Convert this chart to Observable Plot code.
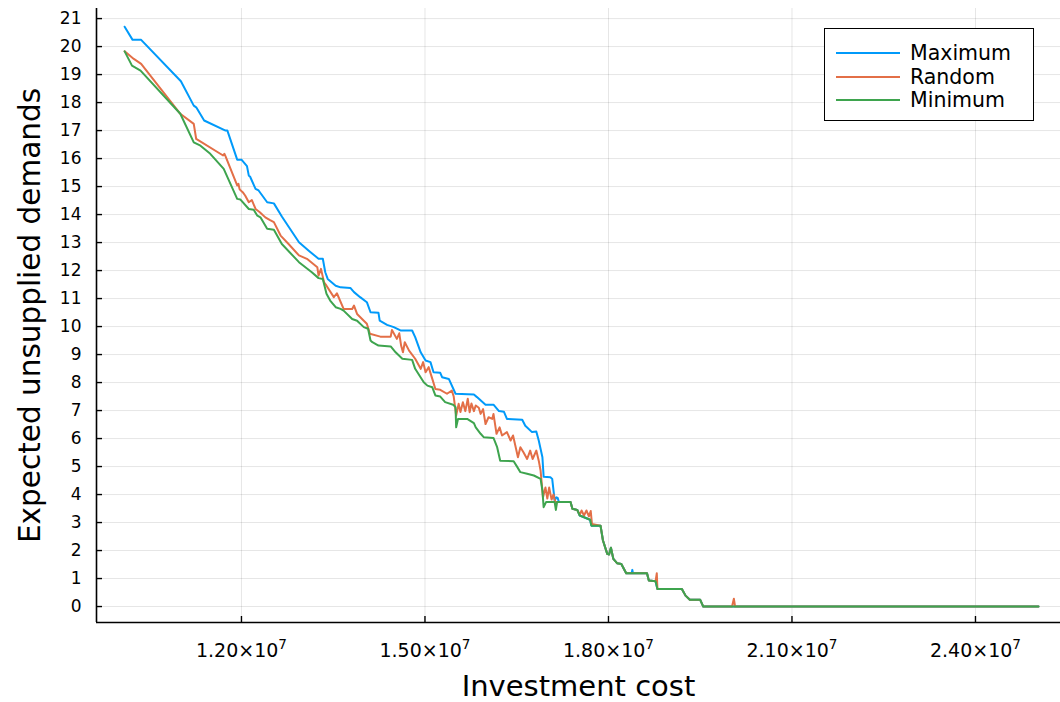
<!DOCTYPE html>
<html>
<head>
<meta charset="utf-8">
<script src="https://cdn.jsdelivr.net/npm/d3@7"></script>
<script src="https://cdn.jsdelivr.net/npm/@observablehq/plot@0.6"></script>
<style>
  html, body { margin: 0; padding: 0; background: #fff; }
  #wrap { position: relative; width: 1060px; height: 702px; font-family: "DejaVu Sans", sans-serif; }
  #legend { position: absolute; left: 824px; top: 28px; width: 208px; height: 91px; border: 1.5px solid #000; background: #fff; }
  .row { position: absolute; left: 11px; height: 24px; display: flex; align-items: center; font-size: 20.5px; color: #000; }
  .row svg { margin-right: 10px; }
</style>
</head>
<body>
<div id="wrap"></div>
<script>
// ---- data (investment cost, expected unsupplied demands) ----
const seriesNames = ["Maximum", "Random", "Minimum"];
const seriesColors = ["#009AFA", "#E36F47", "#3EA44E"];
const xTicks = [1.2e7, 1.5e7, 1.8e7, 2.1e7, 2.4e7];
const yTicks = d3.range(0, 22);
const xDomain = [9.63e6, 25.39e6];
const yDomain = [-0.57, 21.36];

const maximum = [
[10.09e6,20.71],[10.22e6,20.24],[10.36e6,20.24],[11.01e6,18.76],[11.22e6,17.89],[11.26e6,17.83],[11.39e6,17.36],[11.74e6,17.0],[11.77e6,17.0],[11.93e6,15.96],[12.0e6,15.96],[12.09e6,15.73],[12.12e6,15.39],[12.14e6,15.36],[12.23e6,14.92],[12.28e6,14.86],[12.42e6,14.44],[12.53e6,14.40],[12.66e6,13.93],[12.94e6,13.01],[13.10e6,12.71],[13.26e6,12.42],[13.33e6,12.42],[13.37e6,11.94],[13.41e6,11.70],[13.54e6,11.46],[13.62e6,11.40],[13.78e6,11.38],[13.84e6,11.23],[13.94e6,11.05],[14.05e6,10.87],[14.11e6,10.51],[14.24e6,10.49],[14.26e6,10.21],[14.38e6,10.06],[14.49e6,9.98],[14.60e6,9.86],[14.79e6,9.86],[14.84e6,9.62],[14.93e6,9.08],[15.01e6,8.79],[15.09e6,8.73],[15.14e6,8.37],[15.25e6,8.35],[15.28e6,8.19],[15.39e6,8.13],[15.50e6,7.60],[15.80e6,7.57],[15.85e6,7.48],[15.99e6,7.21],[16.12e6,7.21],[16.21e6,6.98],[16.29e6,6.96],[16.34e6,6.70],[16.59e6,6.67],[16.64e6,6.46],[16.75e6,6.23],[16.82e6,6.25],[16.86e6,5.93],[16.92e6,5.33],[16.94e6,4.64],[17.05e6,4.62],[17.08e6,4.56],[17.12e6,3.79],[17.15e6,3.90],[17.17e6,3.88],[17.19e6,3.73],[17.38e6,3.73],[17.41e6,3.49],[17.49e6,3.45],[17.53e6,3.25],[17.60e6,3.19],[17.70e6,3.10],[17.72e6,2.89],[17.87e6,2.89],[17.91e6,2.36],[17.98e6,1.88],[18.01e6,1.86],[18.04e6,2.10],[18.08e6,1.70],[18.14e6,1.55],[18.21e6,1.52],[18.29e6,1.19],[18.38e6,1.19],[18.39e6,1.31],[18.40e6,1.19],[18.63e6,1.19],[18.66e6,0.93],[18.77e6,0.90],[18.80e6,0.63],[19.20e6,0.63],[19.26e6,0.39],[19.33e6,0.24],[19.50e6,0.24],[19.55e6,0.0],[25.03e6,0.0]
];

const random = [
[10.09e6,19.83],[10.24e6,19.56],[10.36e6,19.38],[11.0e6,17.6],[11.22e6,17.24],[11.26e6,16.70],[11.70e6,16.11],[11.72e6,16.17],[11.74e6,16.08],[11.93e6,15.04],[11.95e6,15.10],[11.97e6,14.90],[12.02e6,14.80],[12.06e6,14.68],[12.12e6,14.44],[12.17e6,14.52],[12.23e6,14.20],[12.30e6,14.08],[12.39e6,13.90],[12.46e6,13.81],[12.53e6,13.73],[12.64e6,13.25],[12.77e6,12.95],[12.94e6,12.54],[13.07e6,12.42],[13.24e6,12.12],[13.26e6,11.82],[13.30e6,12.06],[13.35e6,11.58],[13.39e6,11.46],[13.51e6,11.05],[13.56e6,11.19],[13.67e6,10.63],[13.81e6,10.63],[13.84e6,10.75],[13.89e6,10.45],[14.0e6,10.21],[14.05e6,10.10],[14.10e6,9.74],[14.27e6,9.64],[14.44e6,9.64],[14.46e6,9.88],[14.54e6,9.56],[14.58e6,9.76],[14.61e6,9.32],[14.64e6,9.08],[14.67e6,9.44],[14.74e6,9.14],[14.84e6,8.85],[14.93e6,8.49],[14.97e6,8.73],[15.01e6,8.37],[15.06e6,8.55],[15.12e6,8.13],[15.17e6,7.77],[15.25e6,7.74],[15.36e6,7.60],[15.44e6,7.71],[15.47e6,7.50],[15.51e6,6.82],[15.55e6,7.24],[15.58e6,6.95],[15.62e6,7.30],[15.66e6,6.98],[15.70e6,7.42],[15.73e6,6.94],[15.76e6,7.25],[15.80e6,6.98],[15.83e6,7.18],[15.88e6,7.10],[15.91e6,6.88],[15.95e6,7.05],[15.99e6,6.52],[16.04e6,6.76],[16.10e6,6.70],[16.12e6,6.88],[16.17e6,6.17],[16.22e6,6.40],[16.26e6,6.11],[16.34e6,6.23],[16.40e6,5.93],[16.44e6,6.11],[16.52e6,5.33],[16.56e6,5.69],[16.61e6,5.51],[16.67e6,5.27],[16.72e6,5.57],[16.76e6,5.27],[16.82e6,5.57],[16.86e6,5.21],[16.89e6,4.86],[16.93e6,3.90],[16.97e6,4.25],[17.00e6,3.86],[17.03e6,4.25],[17.07e6,3.82],[17.10e6,4.0],[17.13e6,3.73],[17.38e6,3.73],[17.41e6,3.49],[17.49e6,3.45],[17.53e6,3.27],[17.56e6,3.43],[17.60e6,3.25],[17.64e6,3.43],[17.68e6,3.22],[17.71e6,3.41],[17.73e6,2.95],[17.87e6,2.89],[17.91e6,2.36],[17.98e6,1.88],[18.01e6,1.86],[18.04e6,2.10],[18.08e6,1.70],[18.14e6,1.55],[18.21e6,1.52],[18.29e6,1.19],[18.63e6,1.19],[18.66e6,0.93],[18.77e6,0.90],[18.79e6,1.19],[18.80e6,0.63],[19.20e6,0.63],[19.26e6,0.39],[19.33e6,0.24],[19.50e6,0.24],[19.55e6,0.0],[20.02e6,0.0],[20.05e6,0.28],[20.07e6,0.0],[25.03e6,0.0]
];

const minimum = [
[10.09e6,19.83],[10.21e6,19.32],[10.35e6,19.14],[11.0e6,17.6],[11.22e6,16.58],[11.33e6,16.46],[11.49e6,16.17],[11.71e6,15.63],[11.93e6,14.56],[11.98e6,14.54],[12.12e6,14.20],[12.20e6,14.17],[12.26e6,13.96],[12.31e6,13.90],[12.42e6,13.49],[12.53e6,13.46],[12.66e6,12.95],[12.94e6,12.30],[13.15e6,11.94],[13.26e6,11.73],[13.33e6,11.70],[13.39e6,11.17],[13.45e6,10.93],[13.54e6,10.69],[13.62e6,10.63],[13.67e6,10.57],[13.81e6,10.27],[13.89e6,10.21],[14.0e6,9.98],[14.07e6,9.92],[14.11e6,9.5],[14.14e6,9.44],[14.24e6,9.32],[14.44e6,9.29],[14.52e6,9.08],[14.63e6,8.85],[14.79e6,8.81],[14.84e6,8.49],[14.98e6,8.01],[15.04e6,7.89],[15.12e6,7.83],[15.17e6,7.54],[15.25e6,7.50],[15.33e6,7.30],[15.46e6,7.21],[15.50e6,7.12],[15.51e6,6.40],[15.54e6,6.70],[15.69e6,6.70],[15.80e6,6.55],[15.83e6,6.40],[15.91e6,6.17],[15.96e6,6.05],[16.12e6,6.02],[16.18e6,5.69],[16.23e6,5.21],[16.45e6,5.19],[16.51e6,4.98],[16.56e6,4.80],[16.67e6,4.74],[16.78e6,4.68],[16.89e6,4.56],[16.92e6,4.14],[16.94e6,3.55],[16.98e6,3.73],[17.12e6,3.73],[17.14e6,3.45],[17.16e6,3.73],[17.38e6,3.73],[17.41e6,3.49],[17.49e6,3.45],[17.53e6,3.25],[17.60e6,3.19],[17.70e6,3.10],[17.72e6,2.89],[17.87e6,2.89],[17.91e6,2.36],[17.98e6,1.88],[18.01e6,1.86],[18.04e6,2.10],[18.08e6,1.70],[18.14e6,1.55],[18.21e6,1.52],[18.29e6,1.19],[18.63e6,1.19],[18.66e6,0.93],[18.77e6,0.90],[18.80e6,0.63],[19.20e6,0.63],[19.26e6,0.39],[19.33e6,0.24],[19.50e6,0.24],[19.55e6,0.0],[25.03e6,0.0]
];

const xLabel = "Investment cost";
const yLabel = "Expected unsupplied demands";

// ---- build ----
const seriesData = [maximum, random, minimum];
const rows = seriesNames.flatMap((name, i) => seriesData[i].map(([cost, eud]) => ({name, cost, eud})));

const W = 1060, H = 702, mL = 96, mR = 0, mT = 8, mB = 80;
const frameW = W - mL - mR, frameH = H - mT - mB;
const fmtX = d => (d / 1e7).toFixed(2) + "×10^7";

const chart = Plot.plot({
  width: W, height: H,
  marginLeft: mL, marginRight: mR, marginTop: mT, marginBottom: mB,
  style: {fontFamily: "DejaVu Sans", background: "#fff", color: "#000", overflow: "visible"},
  x: {domain: xDomain, label: null},
  y: {domain: yDomain, label: null},
  color: {domain: seriesNames, range: seriesColors},
  marks: [
    Plot.gridX(xTicks, {stroke: "#000", strokeOpacity: 0.1, strokeWidth: 1}),
    Plot.gridY(yTicks, {stroke: "#000", strokeOpacity: 0.1, strokeWidth: 1}),
    Plot.line(rows, {x: "cost", y: "eud", z: "name", stroke: "name", strokeWidth: 2, strokeLinejoin: "round"}),
    Plot.ruleX([xDomain[0]], {stroke: "#000", strokeWidth: 1.6}),
    Plot.ruleY([yDomain[0]], {stroke: "#000", strokeWidth: 1.6}),
    Plot.tickX(xTicks, {x: d => d, insetTop: frameH - 6, stroke: "#000", strokeWidth: 1.4}),
    Plot.tickY(yTicks, {y: d => d, insetRight: frameW - 6, stroke: "#000", strokeWidth: 1.4}),
    Plot.axisX(xTicks, {tickSize: 0, tickPadding: 21, fontSize: 19, tickFormat: fmtX, label: null}),
    Plot.axisY(yTicks, {tickSize: 0, tickPadding: 15, fontSize: 17, label: null}),
    Plot.text([xLabel], {text: d => d, frameAnchor: "bottom", textAnchor: "middle", dy: 73, fontSize: 29, fill: "#000"}),
    Plot.text([yLabel], {text: d => d, frameAnchor: "left", textAnchor: "middle", dx: -66, rotate: -90, fontSize: 29.5, fill: "#000"})
  ]
});

// superscript exponent on x tick labels
d3.select(chart).selectAll('g[aria-label="x-axis tick label"] text').each(function () {
  const t = this.textContent;
  const [base, exp] = t.split("^");
  const sel = d3.select(this);
  sel.text(null);
  sel.append("tspan").text(base);
  sel.append("tspan").attr("dy", "-0.55em").attr("font-size", "0.72em").text(exp);
});

const wrap = document.getElementById("wrap");
wrap.appendChild(chart);

// legend (inside the plot area, top right)
const legend = document.createElement("div");
legend.id = "legend";
seriesNames.forEach((name, i) => {
  const row = document.createElement("div");
  row.className = "row";
  row.style.top = (12 + i * 23.5) + "px";
  row.innerHTML = `<svg width="64" height="4"><line x1="0" y1="2" x2="64" y2="2" stroke="${seriesColors[i]}" stroke-width="2"/></svg><span>${name}</span>`;
  legend.appendChild(row);
});
wrap.appendChild(legend);
</script>
</body>
</html>
